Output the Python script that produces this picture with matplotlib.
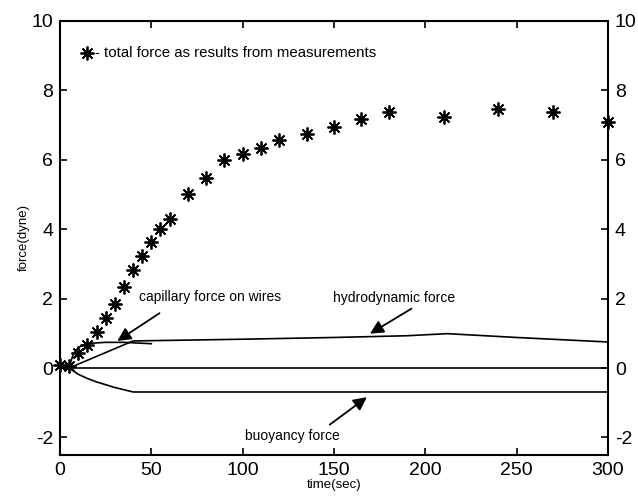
import matplotlib
matplotlib.use("Agg")
import matplotlib.pyplot as plt

plt.rcParams['font.family'] = ['Liberation Sans', 'DejaVu Sans']
plt.rcParams['axes.unicode_minus'] = False

# measured total force (stars)
t_meas = [0, 5, 10, 15, 20, 25, 30, 35, 40, 45, 50, 55, 60, 70, 80, 90, 100,
          110, 120, 135, 150, 165, 180, 210, 240, 270, 300]
f_meas = [0.10, 0.07, 0.43, 0.67, 1.04, 1.45, 1.84, 2.33, 2.82, 3.22, 3.63,
          4.00, 4.30, 5.00, 5.48, 5.98, 6.16, 6.35, 6.58, 6.75, 6.94, 7.16,
          7.36, 7.23, 7.47, 7.36, 7.09]

# component forces
t_zero = [5, 300]
f_zero = [0.0, 0.0]

t_buoy = [5, 10, 15, 20, 30, 40, 300]
f_buoy = [0.0, -0.18, -0.30, -0.40, -0.56, -0.69, -0.69]

t_hydro = [5, 40, 100, 150, 190, 212, 250, 300]
f_hydro = [0.0, 0.78, 0.83, 0.88, 0.93, 0.99, 0.88, 0.75]

t_cap = [5, 6, 7.5, 10, 12, 16, 25, 35, 50]
f_cap = [0.0, 0.2, 0.42, 0.58, 0.65, 0.71, 0.74, 0.74, 0.70]

fig = plt.figure(figsize=(6.38, 4.96), dpi=100)
ax = fig.add_axes([0.094, 0.083, 0.859, 0.875])

star = (8, 2, 0)
ax.plot(t_meas, f_meas, linestyle='none', marker=star, ms=10, mew=1.3,
        color='k', clip_on=False)
for t, f in [(t_zero, f_zero), (t_buoy, f_buoy), (t_hydro, f_hydro), (t_cap, f_cap)]:
    ax.plot(t, f, color='k', lw=1.2)

ax.set_xlim(0, 300)
ax.set_ylim(-2.5, 10)
ax.set_xticks([0, 50, 100, 150, 200, 250, 300])
ax.set_yticks([-2, 0, 2, 4, 6, 8, 10])
ax.tick_params(direction='in', top=True, right=True, labelright=True,
               labelsize=14, length=5, width=1.2, pad=5)
for s in ax.spines.values():
    s.set_linewidth(1.5)

ax.set_xlabel('time(sec)', fontsize=9.5, labelpad=0)
ax.set_ylabel('force(dyne)', fontsize=9.5, labelpad=1)

# legend-like note
ax.plot([14.6], [9.07], linestyle='none', marker=star, ms=10, mew=1.3, color='k')
ax.text(19.0, 9.07, '- total force as results from measurements', fontsize=10.8,
        va='center', ha='left')

arrow = dict(arrowstyle='-|>', color='k', lw=1.3, mutation_scale=20, shrinkA=0, shrinkB=0)
ax.annotate('', xy=(31.4, 0.78), xytext=(54.5, 1.58), arrowprops=arrow)
ax.text(43.5, 2.04, 'capillary force on wires', fontsize=10, va='center', ha='left')

ax.annotate('', xy=(169.7, 0.99), xytext=(192.4, 1.71), arrowprops=arrow)
ax.text(149.6, 2.03, 'hydrodynamic force', fontsize=10, va='center', ha='left')

ax.annotate('', xy=(168, -0.84), xytext=(147.7, -1.63), arrowprops=arrow)
ax.text(127.4, -1.97, 'buoyancy force', fontsize=10, va='center', ha='center')

fig.savefig('out.png', dpi=100)
